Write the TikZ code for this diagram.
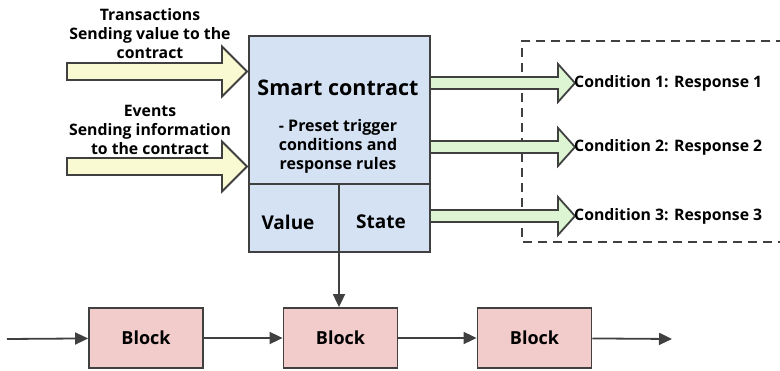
\documentclass[tikz,border=0pt]{standalone}
\usepackage{fontspec}
\setmainfont{Open Sans}
\usetikzlibrary{arrows.meta,calc}

\definecolor{edge}{HTML}{404040}
\definecolor{scfill}{HTML}{D5E2F4}
\definecolor{infill}{HTML}{FAFAD2}
\definecolor{outfill}{HTML}{DDF5D3}
\definecolor{blkfill}{HTML}{F2CBCB}

% wide hollow arrow: style, tail x, head base x, tip x, centre y, shaft half, head half
\newcommand\fatarrow[7]{%
  \draw[#1] (#2,#5-#6) -- (#3,#5-#6) -- (#3,#5-#7) -- (#4,#5)
     -- (#3,#5+#7) -- (#3,#5+#6) -- (#2,#5+#6) -- cycle;}

\tikzset{
  boxline/.style={draw=edge, line width=1.8pt},
  inarrow/.style={draw=edge, line width=1.8pt, fill=infill, line join=miter},
  outarrow/.style={draw=edge, line width=1.8pt, fill=outfill, line join=miter},
  blockbox/.style={boxline, fill=blkfill, minimum width=114pt, minimum height=60pt,
                   inner sep=0pt, font=\bfseries\fontsize{18}{20}\selectfont},
  label/.style={font=\bfseries\fontsize{15.8}{19}\selectfont, align=center, inner sep=0pt},
  cellname/.style={font=\bfseries\fontsize{19}{22}\selectfont, inner sep=0pt},
  chain/.style={draw=edge, line width=1.8pt, -{Triangle[length=13pt,width=12pt]}},
}

\begin{document}
\begin{tikzpicture}[x=1pt,y=-1pt]
\useasboundingbox (0,0) rectangle (780,370);

% dashed frame around the responses (open on the right)
\draw[edge, line width=1.6pt, dash pattern=on 9pt off 6pt]
  (785,41) -- (522,41) -- (522,242) -- (785,242);

% incoming arrows
\fatarrow{inarrow}{67}{222}{247}{71.5}{8.5}{25}
\fatarrow{inarrow}{67}{222}{247}{166.5}{8.5}{25}
\node[label] (tx) at (150,34) {Transactions\\Sending value to the\\contract};
\node[label] (ev) at (150,130) {Events\\Sending information\\to the contract};

% outgoing arrows
\fatarrow{outarrow}{430}{558}{575}{83}{6}{19}
\fatarrow{outarrow}{430}{558}{575}{147}{6}{19}
\fatarrow{outarrow}{430}{558}{575}{216}{6}{19}
\node[label, anchor=west] (r1) at (574,83) {Condition 1: Response 1};
\node[label, anchor=west] (r2) at (574,147) {Condition 2: Response 2};
\node[label, anchor=west] (r3) at (574,216) {Condition 3: Response 3};

% smart contract box
\draw[boxline, fill=scfill] (249,36) rectangle (430,252);
\coordinate (split) at (339,184);
\draw[boxline] (249,184) -- (430,184);
\node[font=\bfseries\fontsize{21.5}{24}\selectfont, inner sep=0pt] (title) at (338,88) {Smart contract};
\node[label, font=\bfseries\fontsize{16}{19}\selectfont] (rules) at (338,146)
  {- Preset trigger\\conditions and\\response rules};
\node[cellname] (value) at (288,222) {Value};
\node[cellname] (state) at (381,222) {State};

% block chain
\node[blockbox] (b1) at (146,338) {Block};
\node[blockbox] (b2) at (340.5,338) {Block};
\node[blockbox] (b3) at (534.5,338) {Block};
\coordinate (start) at (7,339);
\coordinate (finish) at (672,339);
\draw[chain] (start) -- (b1);
\draw[chain] (b1) -- (b2);
\draw[chain] (b2) -- (b3);
\draw[chain] (b3) -- (finish);

% contract divider running down into the middle block
\draw[chain] (split) -- (split |- b2.north);
\end{tikzpicture}
\end{document}
